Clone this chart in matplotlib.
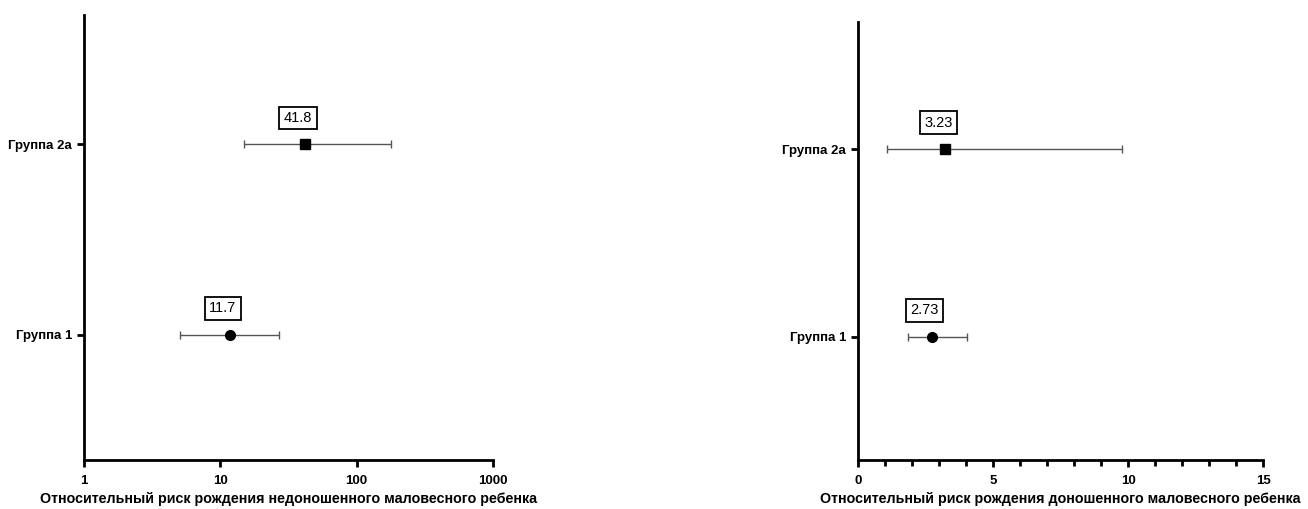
import matplotlib.pyplot as plt
import numpy as np

plt.rcParams['font.family'] = ['Liberation Sans', 'DejaVu Sans']

groups = ['Группа 1', 'Группа 2a']
markers = ['o', 's']

# left panel: preterm low birth weight (log scale)
rr_left = [11.7, 41.8]
lo_left = [5.05, 14.9]
hi_left = [27.0, 178.0]
labels_left = ['11.7', '41.8']

# right panel: full-term low birth weight
rr_right = [2.73, 3.23]
lo_right = [1.85, 1.07]
hi_right = [4.04, 9.78]
labels_right = ['2.73', '3.23']

fig = plt.figure(figsize=(13.08, 5.09), dpi=100)
ax1 = fig.add_axes([0.0642, 0.096, 0.3127, 0.8745])
ax2 = fig.add_axes([0.656, 0.096, 0.3096, 0.861])


def forest(ax, rr, lo, hi, labels, xlabel):
    ypos = np.arange(1, len(rr) + 1)
    for i in range(len(rr)):
        ax.errorbar(rr[i], ypos[i],
                    xerr=[[rr[i] - lo[i]], [hi[i] - rr[i]]],
                    fmt='none', ecolor='#555555', elinewidth=1,
                    capsize=3, capthick=1, zorder=2)
        ax.plot(rr[i], ypos[i], marker=markers[i], color='black',
                markersize=7, linestyle='none', zorder=3)
        ax.annotate(labels[i], (rr[i], ypos[i]), xytext=(-5, 19),
                    textcoords='offset points', ha='center', va='center',
                    fontsize=10.5,
                    bbox=dict(boxstyle='square,pad=0.3', fc='white',
                              ec='black', lw=1.3))
    ax.set_yticks(ypos)
    ax.set_yticklabels(groups, fontweight='bold', fontsize=9.5)
    ax.set_ylim(0.34, 2.68)
    ax.spines['top'].set_visible(False)
    ax.spines['right'].set_visible(False)
    ax.spines['left'].set_linewidth(2)
    ax.spines['bottom'].set_linewidth(2)
    ax.tick_params(width=2, length=5, direction='out')
    ax.tick_params(axis='x', labelsize=9.5, pad=6)
    ax.set_xlabel(xlabel, fontweight='bold', fontsize=10.3, labelpad=3)


ax1.set_xscale('log')
ax1.set_xlim(1, 1000)
ax1.set_xticks([1, 10, 100, 1000])
ax1.set_xticklabels(['1', '10', '100', '1000'])
forest(ax1, rr_left, lo_left, hi_left, labels_left,
       'Относительный риск рождения недоношенного маловесного ребенка')
ax1.minorticks_off()

ax2.set_xlim(0, 15)
ax2.set_xticks([0, 5, 10, 15])
ax2.set_xticks(np.arange(0, 16, 1), minor=True)
forest(ax2, rr_right, lo_right, hi_right, labels_right,
       'Относительный риск рождения доношенного маловесного ребенка')
ax2.tick_params(axis='x', which='minor', width=2, length=4)

for ax in (ax1, ax2):
    for t in ax.get_xticklabels():
        t.set_fontweight('bold')

fig.savefig('out.png', dpi=100)
